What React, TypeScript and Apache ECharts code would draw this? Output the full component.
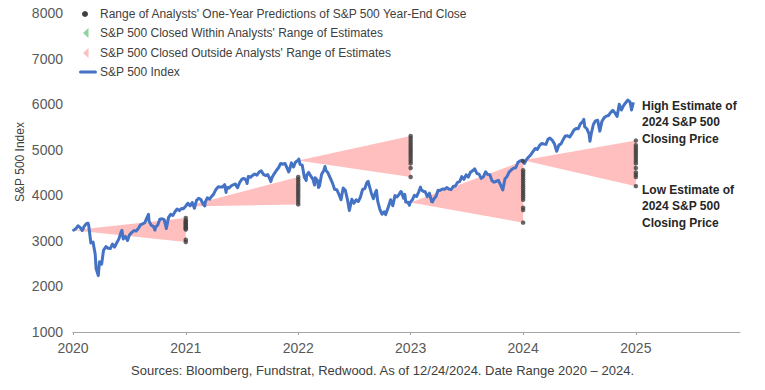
import React, { useEffect, useRef } from 'react';
import * as echarts from 'echarts';

const FONT = "'Liberation Sans', Arial, Helvetica, sans-serif";

// S&P 500 closes (approx. weekly, plus a few daily extremes), as [MM-DD, close]
const sp2020: [string, number][] = [
  ['01-02', 3258], ['01-03', 3235], ['01-10', 3265], ['01-17', 3330], ['01-24', 3295], ['01-31', 3226],
  ['02-07', 3328], ['02-14', 3380], ['02-19', 3386], ['02-21', 3338], ['02-28', 2954], ['03-06', 2972],
  ['03-13', 2711], ['03-16', 2386], ['03-20', 2305], ['03-23', 2237], ['03-27', 2541], ['04-03', 2489],
  ['04-09', 2790], ['04-17', 2875], ['04-24', 2837], ['05-01', 2831], ['05-08', 2930], ['05-15', 2864],
  ['05-22', 2955], ['05-29', 3044], ['06-05', 3194], ['06-08', 3232], ['06-12', 3041], ['06-19', 3098],
  ['06-26', 3009], ['07-02', 3130], ['07-10', 3185], ['07-17', 3225], ['07-24', 3216], ['07-31', 3271],
  ['08-07', 3351], ['08-14', 3373], ['08-21', 3397], ['08-28', 3508], ['09-02', 3580], ['09-04', 3427],
  ['09-11', 3341], ['09-18', 3319], ['09-23', 3237], ['09-25', 3298], ['10-02', 3348], ['10-09', 3477],
  ['10-16', 3484], ['10-23', 3465], ['10-30', 3270], ['11-06', 3509], ['11-13', 3585], ['11-20', 3558],
  ['11-27', 3638], ['12-04', 3699], ['12-11', 3663], ['12-18', 3709], ['12-24', 3703], ['12-31', 3756],
];
const sp2021: [string, number][] = [
  ['01-08', 3825], ['01-15', 3768], ['01-22', 3841], ['01-29', 3714], ['02-05', 3887], ['02-12', 3934],
  ['02-19', 3907], ['02-26', 3811], ['03-04', 3768], ['03-05', 3842], ['03-12', 3943], ['03-19', 3913],
  ['03-26', 3975], ['04-01', 4020], ['04-09', 4129], ['04-16', 4185], ['04-23', 4180], ['04-30', 4181],
  ['05-07', 4233], ['05-12', 4063], ['05-14', 4174], ['05-21', 4156], ['05-28', 4204], ['06-04', 4230],
  ['06-11', 4247], ['06-18', 4166], ['06-25', 4281], ['07-02', 4352], ['07-09', 4370], ['07-16', 4327],
  ['07-19', 4258], ['07-23', 4412], ['07-30', 4395], ['08-06', 4437], ['08-13', 4468], ['08-20', 4442],
  ['08-27', 4509], ['09-03', 4535], ['09-10', 4459], ['09-17', 4433], ['09-24', 4455], ['10-01', 4357],
  ['10-04', 4300], ['10-08', 4391], ['10-15', 4471], ['10-22', 4545], ['10-29', 4605], ['11-05', 4697],
  ['11-12', 4683], ['11-19', 4698], ['11-26', 4595], ['12-01', 4513], ['12-03', 4538], ['12-10', 4712],
  ['12-17', 4620], ['12-23', 4725], ['12-31', 4766],
];
const sp2022: [string, number][] = [
  ['01-03', 4796], ['01-07', 4677], ['01-14', 4663], ['01-21', 4398], ['01-27', 4326], ['01-28', 4432],
  ['02-04', 4501], ['02-11', 4419], ['02-18', 4349], ['02-23', 4225], ['02-25', 4385], ['03-04', 4329],
  ['03-08', 4171], ['03-11', 4204], ['03-18', 4463], ['03-25', 4543], ['03-29', 4632], ['04-01', 4546],
  ['04-08', 4488], ['04-14', 4393], ['04-22', 4272], ['04-29', 4132], ['05-06', 4123], ['05-13', 4024],
  ['05-20', 3901], ['05-27', 4158], ['06-03', 4109], ['06-10', 3901], ['06-16', 3667], ['06-24', 3912],
  ['07-01', 3825], ['07-08', 3899], ['07-15', 3863], ['07-22', 3962], ['07-29', 4130], ['08-05', 4145],
  ['08-12', 4280], ['08-16', 4305], ['08-19', 4228], ['08-26', 4058], ['09-02', 3924], ['09-09', 4067],
  ['09-12', 4110], ['09-16', 3873], ['09-23', 3693], ['09-30', 3586], ['10-07', 3639], ['10-12', 3577],
  ['10-14', 3583], ['10-21', 3753], ['10-28', 3901], ['11-04', 3771], ['11-11', 3993], ['11-18', 3965],
  ['11-25', 4026], ['11-30', 4080], ['12-02', 4072], ['12-09', 3934], ['12-13', 4020], ['12-16', 3852],
  ['12-23', 3845], ['12-28', 3783], ['12-30', 3840],
];
const sp2023: [string, number][] = [
  ['01-06', 3895], ['01-13', 3999], ['01-20', 3973], ['01-27', 4071], ['02-02', 4180], ['02-03', 4136],
  ['02-10', 4090], ['02-17', 4079], ['02-24', 3970], ['03-03', 4046], ['03-10', 3862], ['03-13', 3855],
  ['03-17', 3917], ['03-24', 3971], ['03-31', 4109], ['04-06', 4105], ['04-14', 4138], ['04-21', 4133],
  ['04-28', 4169], ['05-05', 4136], ['05-12', 4124], ['05-19', 4192], ['05-26', 4205], ['06-02', 4282],
  ['06-09', 4299], ['06-16', 4410], ['06-23', 4348], ['06-30', 4450], ['07-07', 4399], ['07-14', 4505],
  ['07-21', 4536], ['07-28', 4582], ['08-04', 4478], ['08-11', 4464], ['08-18', 4370], ['08-25', 4406],
  ['09-01', 4516], ['09-08', 4457], ['09-15', 4450], ['09-22', 4320], ['09-29', 4288], ['10-06', 4308],
  ['10-13', 4327], ['10-20', 4224], ['10-27', 4117], ['11-03', 4358], ['11-10', 4415], ['11-17', 4514],
  ['11-24', 4559], ['12-01', 4595], ['12-08', 4604], ['12-15', 4719], ['12-22', 4755], ['12-29', 4770],
];
const sp2024: [string, number][] = [
  ['01-05', 4697], ['01-12', 4784], ['01-19', 4840], ['01-26', 4891], ['02-02', 4959], ['02-09', 5027],
  ['02-16', 5006], ['02-23', 5089], ['03-01', 5137], ['03-08', 5124], ['03-15', 5117], ['03-22', 5234],
  ['03-28', 5254], ['04-05', 5204], ['04-12', 5123], ['04-19', 4967], ['04-26', 5100], ['05-03', 5128],
  ['05-10', 5223], ['05-17', 5303], ['05-24', 5305], ['05-31', 5278], ['06-07', 5347], ['06-14', 5431],
  ['06-21', 5465], ['06-28', 5460], ['07-05', 5567], ['07-12', 5615], ['07-16', 5667], ['07-19', 5505],
  ['07-26', 5459], ['08-02', 5346], ['08-05', 5186], ['08-09', 5344], ['08-16', 5554], ['08-23', 5634],
  ['08-30', 5648], ['09-06', 5408], ['09-13', 5626], ['09-20', 5703], ['09-27', 5738], ['10-04', 5751],
  ['10-11', 5815], ['10-18', 5864], ['10-25', 5808], ['11-01', 5729], ['11-08', 5996], ['11-15', 5870],
  ['11-22', 5969], ['11-29', 6032], ['12-06', 6090], ['12-13', 6051], ['12-18', 5872], ['12-20', 5931],
  ['12-24', 6040],
];
const spYears = [2020, 2021, 2022, 2023, 2024];
const spByYear = [sp2020, sp2021, sp2022, sp2023, sp2024];

// Analyst ranges: each forecast year starts at prior close and fans to year-end high/low estimates
const forecastYears = [2020, 2021, 2022, 2023, 2024];
const startClose = [3231, 3756, 4766, 3840, 4770];
const highEstimate = [3500, 4400, 5300, 4750, 5200];
const lowEstimate = [2975, 3800, 4400, 3400, 4200];
const predictions2020 = [3500, 3450, 3420, 3400, 3375, 3350, 3325, 3300, 3275, 3250, 3025, 2975];
const predictions2021 = [4400, 4350, 4300, 4250, 4200, 4150, 4100, 4050, 4000, 3950, 3900, 3850, 3800];
const predictions2022 = [5300, 5250, 5200, 5150, 5100, 5050, 5000, 4950, 4900, 4850, 4800, 4750, 4700, 4600, 4400];
const predictions2023 = [4750, 4550, 4500, 4450, 4400, 4350, 4300, 4250, 4200, 4150, 4100, 4050, 4000, 3950, 3900, 3725, 3675, 3400];
const predictions2024 = [5200, 5100, 5050, 5000, 4950, 4900, 4850, 4800, 4750, 4700, 4600, 4500, 4450, 4400, 4200];
const predictionsByYear = [predictions2020, predictions2021, predictions2022, predictions2023, predictions2024];

const legendLabels = [
  "Range of Analysts' One-Year Predictions of S&P 500 Year-End Close",
  "S&P 500 Closed Within Analysts' Range of Estimates",
  "S&P 500 Closed Outside Analysts' Range of Estimates",
  'S&P 500 Index',
];
const highNote = 'High Estimate of\n2024 S&P 500\nClosing Price';
const lowNote = 'Low Estimate of\n2024 S&P 500\nClosing Price';
const sourceNote = 'Sources: Bloomberg, Fundstrat, Redwood. As of 12/24/2024. Date Range 2020 \u2013 2024.';
const yAxisTitle = 'S&P 500 Index';

const BLUE = '#4472C4';
const PINK = '#FFBFBF';
const GREEN = '#8FD3A0';
const DOT = '#404040';

const ts = (y: number, md: string) => {
  const [m, d] = md.split('-').map(Number);
  return new Date(y, m - 1, d).getTime();
};

export default function App() {
  const ref = useRef<HTMLDivElement>(null);
  useEffect(() => {
    if (!ref.current) return;
    const chart = echarts.init(ref.current, undefined, { renderer: 'svg' });

    const lineData: [number, number][] = [];
    spByYear.forEach((arr, i) => arr.forEach(([md, v]) => lineData.push([ts(spYears[i], md), v])));

    const fanData = forecastYears.map((y, i) => [
      ts(y, '01-01'), startClose[i], ts(y + 1, '01-01'), highEstimate[i], lowEstimate[i],
    ]);
    const dotData: [number, number][] = [];
    predictionsByYear.forEach((arr, i) => arr.forEach((v) => dotData.push([ts(forecastYears[i] + 1, '01-01'), v])));

    const legendY = [14, 33, 53, 72];
    const graphics: any[] = [
      { type: 'circle', shape: { cx: 85, cy: legendY[0], r: 3 }, style: { fill: DOT } },
      { type: 'polygon', shape: { points: [[83, legendY[1]], [88.5, legendY[1] - 5], [88.5, legendY[1] + 5]] }, style: { fill: GREEN } },
      { type: 'polygon', shape: { points: [[83, legendY[2]], [88.5, legendY[2] - 5], [88.5, legendY[2] + 5]] }, style: { fill: PINK } },
      { type: 'line', shape: { x1: 80.5, y1: legendY[3], x2: 95.5, y2: legendY[3] }, style: { stroke: BLUE, lineWidth: 3, lineCap: 'round' } },
      ...legendLabels.map((t, i) => ({
        type: 'text', x: 100, y: legendY[i],
        style: { text: t, fontSize: 12, fontFamily: FONT, fill: '#404040', verticalAlign: 'middle', align: 'left' },
      })),
      {
        type: 'text', x: 642, y: 98,
        style: { text: highNote, fontSize: 12, fontWeight: 'bold', lineHeight: 16.3, fontFamily: FONT, fill: '#262626', verticalAlign: 'top' },
      },
      {
        type: 'text', x: 642, y: 182,
        style: { text: lowNote, fontSize: 12, fontWeight: 'bold', lineHeight: 16.3, fontFamily: FONT, fill: '#262626', verticalAlign: 'top' },
      },
      {
        type: 'text', x: 20, y: 162, rotation: Math.PI / 2,
        style: { text: yAxisTitle, fontSize: 12, fontFamily: FONT, fill: '#404040', align: 'center', verticalAlign: 'middle' },
      },
    ];

    chart.setOption({
      animation: false,
      backgroundColor: '#ffffff',
      textStyle: { fontFamily: FONT },
      title: {
        text: sourceNote,
        left: 'center',
        top: 359,
        textStyle: { fontSize: 13, fontWeight: 'normal', color: '#404040', fontFamily: FONT },
      },
      grid: { left: 73, right: 25, top: 13, bottom: 58, containLabel: false },
      xAxis: {
        type: 'time',
        min: ts(2020, '01-01'),
        max: ts(2025, '12-05'),
        minInterval: 365 * 24 * 3600 * 1000,
        splitLine: { show: false },
        axisLine: { show: true, lineStyle: { color: '#A6A6A6', width: 1 } },
        axisTick: { show: true, length: 3, lineStyle: { color: '#A6A6A6' } },
        axisLabel: {
          fontSize: 14, color: '#595959', margin: 9, fontFamily: FONT,
          formatter: '{yyyy}', showMaxLabel: false, hideOverlap: true,
        },
      },
      yAxis: {
        type: 'value',
        min: 1000,
        max: 8000,
        interval: 1000,
        axisLine: { show: false },
        axisTick: { show: false },
        splitLine: { show: false },
        axisLabel: {
          fontSize: 14, color: '#595959', margin: 10, fontFamily: FONT,
          formatter: (v: number) => String(v),
        },
      },
      series: [
        {
          name: 'fans',
          type: 'custom',
          z: 1,
          silent: true,
          encode: { x: [0, 2], y: [1, 3, 4] },
          renderItem: (_params: any, api: any) => {
            const a = api.coord([api.value(0), api.value(1)]);
            const h = api.coord([api.value(2), api.value(3)]);
            const l = api.coord([api.value(2), api.value(4)]);
            return { type: 'polygon', shape: { points: [a, h, l] }, style: { fill: PINK } };
          },
          data: fanData,
        },
        {
          name: legendLabels[3],
          type: 'line',
          z: 2,
          showSymbol: false,
          data: lineData,
          lineStyle: { color: BLUE, width: 3, join: 'round' },
          itemStyle: { color: BLUE },
        },
        {
          name: legendLabels[0],
          type: 'scatter',
          z: 3,
          symbol: 'circle',
          symbolSize: 4.5,
          itemStyle: { color: DOT },
          data: dotData,
        },
      ],
      graphic: graphics,
    });
    return () => chart.dispose();
  }, []);
  return <div ref={ref} style={{ position: 'fixed', left: 0, top: 0, width: 765, height: 390 }} />;
}
